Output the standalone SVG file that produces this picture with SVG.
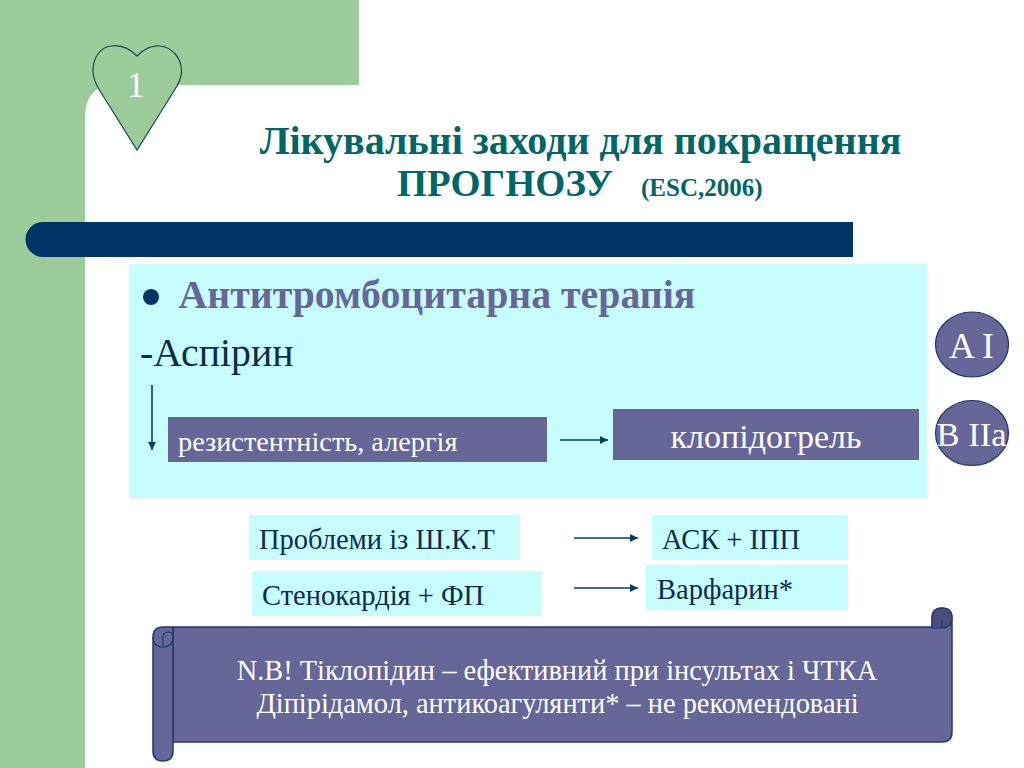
<svg xmlns="http://www.w3.org/2000/svg" width="1024" height="768" viewBox="0 0 1024 768">
<style>
text{font-family:"Liberation Serif","Times New Roman",serif}
.w{fill:#fff}
.d{fill:#0d2b4a}
.box{fill:#c8fdff}
.pur{fill:#666699}
.ln{stroke:#003f62;stroke-width:1.6;fill:none}
.scroll{fill:#666699;stroke:#1f3a70;stroke-width:1.5}
</style>
<defs>
<marker id="ah" markerUnits="userSpaceOnUse" markerWidth="9" markerHeight="10" refX="8" refY="4" orient="auto"><path d="M0 0L8 4L0 8Z" fill="#003f62"/></marker>
</defs>
<rect width="1024" height="768" fill="#fff"/>
<path d="M0 0H359V85H115Q85 85 85 118V768H0Z" fill="#9ccc99"/>
<g id="bar"><path d="M43 222H853V257H43A17.500 17.500 0 0 1 43 222Z" fill="#003366"/></g>
<g id="heart">
<path d="M137 56C128 47 118 45 111 46C100 47 93 58 93 71C93 80 97 86 100 91L137 150L174 91C178 85 181.500 79 181.500 71C181.500 58 172 47 160 46C152 45 145 48 137 56Z" fill="#9ccc99" stroke="#1a4a55" stroke-width="1.200"/>
<text x="136" y="97" font-size="35" text-anchor="middle" class="w">1</text>
</g>
<g id="title" font-weight="bold" fill="#006666">
<text x="580.500" y="154" font-size="40" text-anchor="middle">Лікувальні заходи для покращення</text>
<text x="397" y="196" font-size="38.700">ПРОГНОЗУ</text>
<text x="641" y="196" font-size="25">(ESC,2006)</text>
</g>
<g id="panel">
<rect x="129" y="264" width="798" height="234" class="box"/>
<circle cx="151" cy="297" r="8" fill="#003366"/>
<text x="178.500" y="308" font-size="39.800" font-weight="bold" fill="#666699">Антитромбоцитарна терапія</text>
<text x="140" y="366" font-size="39.800" class="d">-Аспірин</text>
</g>
<g id="n-res"><rect x="168" y="417" width="379" height="45" class="pur"/><text x="178" y="451" font-size="28.300" class="w">резистентність, алергія</text></g>
<g id="n-clo"><rect x="613" y="409" width="306" height="51" class="pur"/><text x="766" y="448" font-size="34" text-anchor="middle" class="w">клопідогрель</text></g>
<g id="n-ai"><ellipse cx="972" cy="344.500" rx="36.500" ry="32.500" class="pur" stroke="#1a3a60" stroke-width="1.200"/><text x="971.500" y="358" font-size="36" text-anchor="middle" class="w">A I</text></g>
<g id="n-bii"><ellipse cx="972" cy="433" rx="36.500" ry="32.500" class="pur" stroke="#1a3a60" stroke-width="1.200"/><text x="971.500" y="446" font-size="34.500" text-anchor="middle" class="w">B IIa</text></g>
<g id="n-shkt"><rect x="249" y="515" width="271" height="45" class="box"/><text x="259" y="549" font-size="28.500" class="d">Проблеми із Ш.К.Т</text></g>
<g id="n-fp"><rect x="252" y="571" width="290" height="45" class="box"/><text x="262" y="605" font-size="28.500" class="d">Стенокардія + ФП</text></g>
<g id="n-ask"><rect x="652" y="515" width="196" height="45" class="box"/><text x="662" y="549" font-size="28.500" class="d">АСК + ІПП</text></g>
<g id="n-war"><rect x="646" y="565" width="202" height="45" class="box"/><text x="657" y="599" font-size="28.500" class="d">Варфарин*</text></g>
<g id="connectors" class="ln">
<path d="M152 385V450" marker-end="url(#ah)"/>
<path d="M560 440H608" marker-end="url(#ah)"/>
<path d="M574 538H638" marker-end="url(#ah)"/>
<path d="M574 588H638" marker-end="url(#ah)"/>
</g>
<g id="scroll">
<path class="scroll" d="M173 627H932V618Q932 608 942 608Q952 608 952 618V732Q952 742 942 742H173Z"/>
<path d="M932 627V618Q932 608 942 608Q952 608 952 618Q952 628 942 628H932Z" fill="#4c4c7a" stroke="#1f3a70" stroke-width="1.200"/>
<path d="M942 628V620" fill="none" stroke="#1f3a70" stroke-width="1.200"/>
<path class="scroll" d="M153 637Q153 627 163 627H173V751Q173 761 163 761Q153 761 153 751Z"/>
<path d="M153 637Q153 647 163 647Q173 647 173 637Q173 632 168 632Q163 632 163 638V647" fill="none" stroke="#1f3a70" stroke-width="1.200"/>
<text x="557" y="680" font-size="28.400" text-anchor="middle" class="w">N.B! Тіклопідин – ефективний при інсультах і ЧТКА</text>
<text x="557.500" y="713" font-size="28.400" text-anchor="middle" class="w">Діпірідамол, антикоагулянти* – не рекомендовані</text>
</g>
</svg>
